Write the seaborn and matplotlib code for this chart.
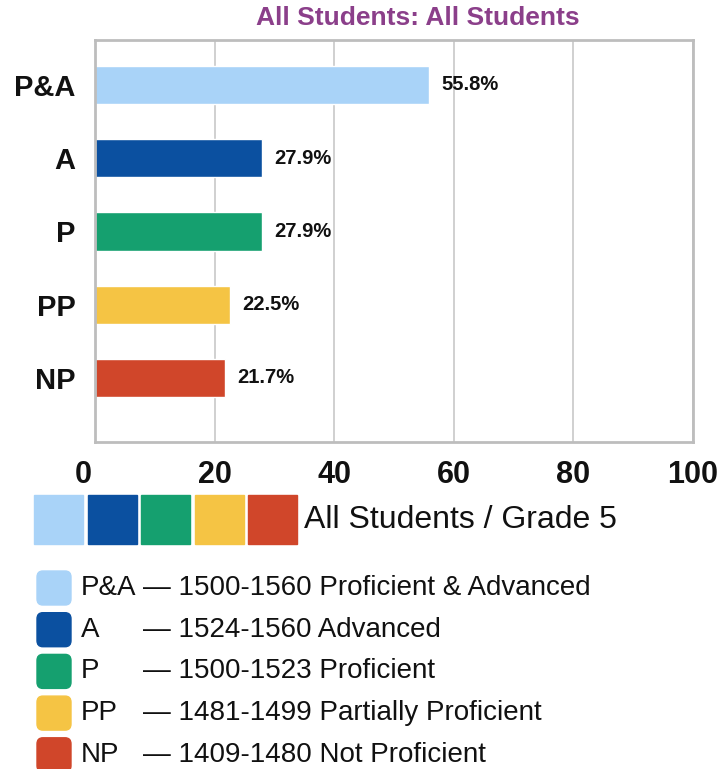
import matplotlib
matplotlib.use("Agg")
import matplotlib.pyplot as plt
import matplotlib.transforms as mtransforms
import seaborn as sns
import pandas as pd
from matplotlib.patches import Rectangle, FancyBboxPatch

# data
levels = ["P&A", "A", "P", "PP", "NP"]
percents = [55.8, 27.9, 27.9, 22.5, 21.7]
colors = ["#A9D3F8", "#0B50A0", "#15A06F", "#F5C444", "#D0462A"]
ranges = ["1500-1560 Proficient & Advanced", "1524-1560 Advanced",
          "1500-1523 Proficient", "1481-1499 Partially Proficient",
          "1409-1480 Not Proficient"]
xticks = [0, 20, 40, 60, 80, 100]
title = "All Students: All Students"
group_label = "All Students / Grade 5"

df = pd.DataFrame({"level": levels, "pct": percents})

sns.set_style("white")
plt.rcParams["font.family"] = ["Liberation Sans", "DejaVu Sans"]
plt.rcParams["text.color"] = "#111111"

fig = plt.figure(figsize=(7.22, 7.69), dpi=100)
W, H = 722, 769
ax = fig.add_axes([95 / W, 1 - 442 / H, 598 / W, 402 / H])

sns.barplot(data=df, x="pct", y="level", hue="level", palette=colors,
            orient="h", width=0.52, legend=False, ax=ax, saturation=1)

ax.set_xlim(0, 100)
ax.set_ylim(4.874, -0.614)
ax.set_xticks(xticks)
ax.set_xticklabels([str(t) for t in xticks], fontsize=22, fontweight="bold",
                   color="#111111")
ax.set_yticks(range(len(levels)))
ax.set_yticklabels(levels, fontsize=21, fontweight="bold", color="#111111")
ax.tick_params(axis="x", length=0, pad=13)
ax.tick_params(axis="y", length=0, pad=14)
# the "0" label sits a little left of its tick in the original
lbl0 = ax.get_xticklabels()[0]
lbl0.set_transform(lbl0.get_transform() +
                   mtransforms.ScaledTranslation(-12 / 100, 0, fig.dpi_scale_trans))
ax.set_xlabel("")
ax.set_ylabel("")
ax.grid(axis="x", color="#C8C8C8", linewidth=1.2)
ax.set_axisbelow(True)
for s in ax.spines.values():
    s.set_color("#BDBDBD")
    s.set_linewidth(2)

for i, v in enumerate(percents):
    ax.text(v + 2.1, i, f"{v}%", va="center", ha="left",
            fontsize=14.5, fontweight="bold", color="#111111")

fig.text(418 / W, 1 - 18 / H, title, ha="center", va="center",
         fontsize=19, fontweight="bold", color="#8B3F8A")

# color strip
for i, c in enumerate(colors):
    x0 = 34 + i * 53.5
    fig.patches.append(Rectangle((x0 / W, 1 - 544 / H), 49 / W, 49 / H,
                                 transform=fig.transFigure, color=c))
fig.text(304 / W, 1 - 520 / H, group_label, ha="left", va="center",
         fontsize=23, color="#111111")

# key
for i, (lv, rg, c) in enumerate(zip(levels, ranges, colors)):
    yc = 588 + i * 41.7
    fig.patches.append(FancyBboxPatch((37 / W, 1 - (yc + 17) / H), 34 / W, 34 / H,
                                      boxstyle="round,pad=0,rounding_size=0.008",
                                      transform=fig.transFigure, color=c))
    fig.text(81 / W, 1 - yc / H, lv, ha="left", va="center",
             fontsize=20, color="#111111")
    fig.text(143 / W, 1 - yc / H, "\u2014 " + rg, ha="left", va="center",
             fontsize=20, color="#111111")

fig.savefig("out.png", dpi=100, facecolor="white")
